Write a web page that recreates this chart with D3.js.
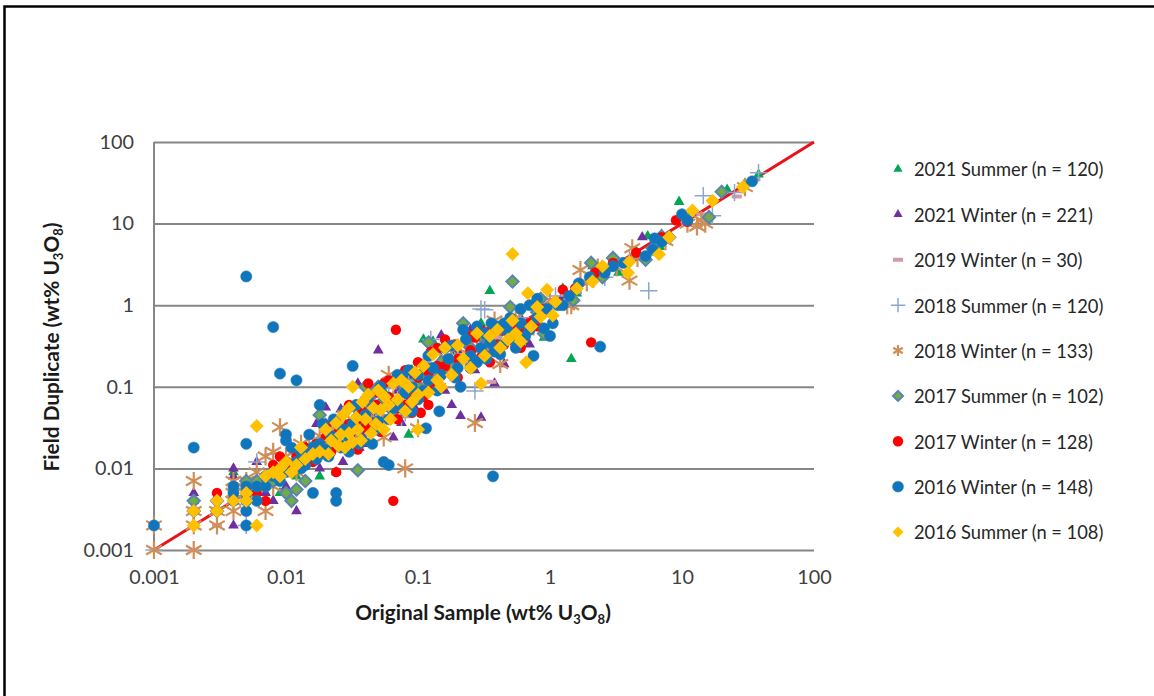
<!DOCTYPE html>
<html>
<head>
<meta charset="utf-8">
<script src="https://cdn.jsdelivr.net/npm/d3@7"></script>
<style>
  html, body { margin: 0; padding: 0; background: #fff; }
  text { font-family: Lato, "Open Sans", sans-serif; fill: #262626; }
  .tick-label { font-size: 19.8px; fill: #404040; }
  .legend-label { font-size: 18.3px; }
  .axis-title { font-size: 20.8px; font-weight: 700; fill: #1a1a1a; }
</style>
</head>
<body>
<svg id="chart" width="1154" height="696"></svg>
<script>
const tickValues = [0.001, 0.01, 0.1, 1, 10, 100];
const parityLine = [[0.001, 0.001], [100, 100]];

const summer2021 = [[.004,.009],[.006,.007],[.007,.006],[.008,.004],[.009,.005],[.012,.008],[.014,.012],[.018,.008],[.02,.014],[.024,.009],[.027,.026],[.03,.02],[.036,.023],[.04,.036],[.046,.04],[.05,.06],[.056,.085],[.062,.06],[.07,.066],[.075,.1],[.085,.13],[.085,.026],[.09,.16],[.1,.11],[.11,.38],[.12,.15],[.13,.36],[.15,.22],[.17,.16],[.19,.27],[.22,.34],[.24,.21],[.27,.46],[.3,.6],[.35,1.5],[.4,.52],[.45,.5],[.55,.62],[.62,.36],[.7,.55],[.8,.75],[.9,.4],[1,1.05],[1.25,1.6],[1.45,.22],[1.6,1.4],[2.1,3],[2.5,2.6],[3.3,2.5],[4.5,4.6],[5.5,7],[6.8,5.2],[7.5,6.2],[9.5,18.5],[12,14],[16,12.5],[22,26],[30,31],[38,40]];
const winter2021 = [[.002,.005],[.002,.004],[.004,.01],[.004,.008],[.004,.002],[.005,.003],[.005,.006],[.006,.012],[.007,.005],[.008,.004],[.009,.007],[.01,.006],[.012,.003],[.012,.013],[.014,.019],[.016,.012],[.017,.035],[.018,.01],[.02,.056],[.02,.03],[.023,.018],[.024,.022],[.026,.053],[.027,.012],[.03,.034],[.032,.026],[.034,.06],[.035,.11],[.036,.018],[.04,.027],[.042,.02],[.045,.042],[.05,.28],[.05,.05],[.055,.04],[.06,.075],[.065,.024],[.07,.09],[.075,.036],[.08,.11],[.085,.075],[.09,.14],[.095,.055],[.1,.13],[.11,.08],[.12,.17],[.13,.1],[.14,.27],[.15,.43],[.16,.09],[.18,.19],[.18,.06],[.2,.28],[.21,.044],[.24,.33],[.25,.5],[.27,.16],[.3,.042],[.32,.38],[.35,.28],[.38,.11],[.42,.48],[.45,.19],[.5,.6],[.55,.42],[.6,.7],[.7,.33],[.75,.65],[.85,.56],[1,1.05],[1.2,1.15],[1.6,1.5],[2.2,2.4],[3,3.4],[4.2,3.8],[5,6.8],[7,6.2]];
const winter2019 = [[.001,.002],[.002,.001],[.002,.002],[.003,.002],[.01,.011],[.03,.03],[.05,.05],[.09,.09],[.15,.14],[.22,.2],[.36,.115],[.4,.4],[.55,.5],[.9,.8],[1.6,1.5],[2.5,2.3],[7,6.5],[14,13],[26,21.5],[36,35]];
const summer2018 = [[.001,.001],[.005,.002],[.006,.012],[.008,.015],[.012,.015],[.014,.012],[.017,.018],[.022,.02],[.025,.032],[.028,.024],[.03,.03],[.034,.02],[.037,.06],[.04,.05],[.044,.034],[.048,.055],[.055,.05],[.06,.095],[.065,.05],[.07,.07],[.075,.042],[.08,.048],[.085,.12],[.1,.1],[.11,.2],[.125,.38],[.14,.11],[.16,.28],[.19,.21],[.23,.25],[.27,.089],[.3,.9],[.32,.88],[.35,.5],[.42,.38],[.5,.55],[.6,.7],[.75,.9],[1.1,1.3],[1.5,1.4],[2.6,2.2],[4,3.8],[5.6,1.5],[7,6.8],[10,12],[14.5,22],[17,12.5],[25,24],[38,42]];
const winter2018 = [[.001,.001],[.001,.002],[.002,.001],[.002,.002],[.002,.003],[.002,.007],[.003,.002],[.003,.003],[.004,.003],[.004,.004],[.004,.005],[.004,.007],[.005,.007],[.005,.005],[.006,.009],[.006,.006],[.007,.003],[.007,.014],[.008,.016],[.008,.006],[.009,.032],[.009,.01],[.01,.014],[.012,.009],[.013,.02],[.015,.017],[.018,.025],[.02,.016],[.022,.03],[.025,.023],[.028,.045],[.03,.033],[.034,.028],[.036,.05],[.04,.06],[.044,.036],[.05,.04],[.055,.024],[.06,.14],[.065,.07],[.07,.06],[.08,.01],[.082,.1],[.09,.085],[.1,.031],[.11,.17],[.12,.1],[.14,.14],[.16,.23],[.18,.17],[.2,.3],[.23,.22],[.27,.036],[.28,.42],[.32,.3],[.38,.65],[.42,.19],[.5,.42],[.55,.7],[.6,.5],[.75,.55],[.85,.95],[1,1.15],[1.35,1],[1.45,1],[1.7,2.7],[1.9,1.9],[2.3,2.9],[3.2,2.9],[4,2],[4.2,5],[4.6,3.8],[7.5,6.1],[11,10],[13,9.2],[14,11],[15,10],[30,28]];
const summer2017 = [[.002,.004],[.002,.003],[.003,.004],[.003,.003],[.005,.007],[.006,.006],[.006,.007],[.007,.008],[.008,.007],[.01,.005],[.011,.004],[.012,.0055],[.014,.007],[.016,.018],[.018,.045],[.02,.034],[.024,.02],[.028,.03],[.035,.0095],[.036,.05],[.04,.1],[.045,.08],[.05,.1],[.055,.068],[.065,.05],[.075,.11],[.08,.09],[.1,.1],[.12,.35],[.13,.12],[.15,.2],[.18,.17],[.22,.6],[.25,.3],[.3,.42],[.38,.3],[.42,.52],[.5,.95],[.52,1.95],[.55,.5],[.65,.55],[.8,.82],[.85,1.2],[.9,.45],[1.5,1.15],[2.05,3.3],[2.5,2.2],[3,3.8],[5.3,3.6],[6,5],[7,7],[8,6.8],[16,12],[20,24.5]];
const winter2017 = [[.003,.005],[.004,.004],[.005,.006],[.006,.005],[.007,.004],[.008,.011],[.009,.014],[.011,.011],[.012,.014],[.014,.018],[.016,.012],[.017,.02],[.018,.015],[.02,.024],[.022,.016],[.024,.009],[.025,.028],[.027,.03],[.03,.022],[.03,.035],[.033,.018],[.035,.04],[.038,.05],[.04,.032],[.042,.11],[.044,.028],[.048,.06],[.05,.085],[.052,.028],[.055,.11],[.06,.075],[.065,.004],[.068,.5],[.07,.055],[.075,.13],[.08,.06],[.085,.1],[.09,.048],[.1,.13],[.105,.048],[.11,.075],[.12,.15],[.125,.27],[.13,.105],[.14,.3],[.16,.18],[.18,.14],[.19,.33],[.2,.22],[.24,.42],[.27,.4],[.3,.23],[.34,.47],[.4,.5],[.45,.33],[.5,.38],[.55,.55],[.6,.4],[.7,.6],[.8,.55],[1.25,1.55],[1.55,1.6],[2.05,.35],[2.2,2.5],[3,3.3],[4.5,4.4],[7,6.8],[9,11],[11,10.5],[.02,.034],[.024,.04],[.03,.06],[.035,.017],[.04,.07],[.05,.032],[.06,.12],[.07,.04],[.08,.16],[.09,.08],[.1,.2],[.12,.06],[.14,.18],[.16,.38],[.2,.13],[.25,.28],[.3,.5],[.35,.2],[.4,.33],[.5,.7],[.55,.3],[.65,.5],[.9,.9],[.6,.3]];
const winter2016 = [[.001,.002],[.002,.018],[.004,.004],[.004,.005],[.004,.006],[.005,.002],[.005,.003],[.005,.004],[.005,.005],[.005,.006],[.005,.02],[.005,2.25],[.006,.004],[.006,.006],[.007,.006],[.007,.008],[.008,.008],[.008,.54],[.009,.007],[.009,.145],[.01,.009],[.01,.022],[.01,.026],[.012,.12],[.012,.012],[.013,.016],[.014,.011],[.015,.015],[.016,.005],[.016,.018],[.018,.06],[.018,.02],[.02,.017],[.022,.025],[.024,.005],[.024,.004],[.025,.02],[.027,.03],[.03,.023],[.032,.18],[.032,.035],[.035,.03],[.038,.022],[.04,.045],[.045,.055],[.045,.02],[.05,.038],[.055,.012],[.056,.075],[.06,.011],[.065,.055],[.07,.06],[.075,.13],[.08,.085],[.09,.05],[.09,.1],[.1,.14],[.11,.09],[.115,.031],[.12,.12],[.13,.17],[.145,.05],[.15,.14],[.17,.22],[.18,.32],[.2,.17],[.21,.1],[.23,.38],[.25,.24],[.28,.2],[.3,.3],[.32,.45],[.37,.008],[.38,.27],[.4,.55],[.43,.32],[.48,.48],[.55,.38],[.6,.6],[.65,.42],[.75,.24],[.8,1.2],[.9,.52],[1,.42],[1.05,.6],[1.15,1],[1.25,1],[1.4,1.3],[1.65,1.85],[2,2.2],[2.4,.31],[2.6,2.5],[3,3],[3.6,3.3],[5.3,4],[6,4.8],[6.2,6.6],[7,6],[10,13],[11,11],[34,33],[.011,.018],[.013,.01],[.015,.026],[.017,.013],[.019,.035],[.021,.014],[.023,.04],[.026,.018],[.028,.05],[.03,.016],[.034,.06],[.036,.02],[.042,.075],[.048,.03],[.052,.1],[.06,.04],[.07,.14],[.08,.05],[.085,.16],[.1,.07],[.12,.24],[.14,.09],[.16,.3],[.19,.13],[.22,.5],[.25,.17],[.28,.55],[.33,.22],[.36,.6],[.42,.25],[.5,.7],[.55,.3],[.6,.9],[.7,.5],[.8,.7],[.95,.9],[.7,1],[.45,.6],[.35,.35]];
const summer2016 = [[.002,.002],[.002,.003],[.003,.003],[.003,.004],[.004,.004],[.005,.004],[.005,.005],[.006,.002],[.006,.033],[.007,.008],[.008,.009],[.009,.01],[.009,.008],[.01,.012],[.011,.009],[.012,.011],[.013,.018],[.014,.013],[.016,.015],[.018,.016],[.02,.03],[.021,.015],[.022,.022],[.024,.036],[.025,.019],[.026,.026],[.027,.045],[.028,.018],[.03,.027],[.03,.055],[.032,.021],[.032,.1],[.034,.042],[.035,.03],[.037,.022],[.038,.065],[.04,.04],[.042,.08],[.044,.027],[.046,.055],[.048,.035],[.05,.09],[.052,.052],[.055,.03],[.056,.075],[.06,.06],[.062,.04],[.065,.11],[.07,.07],[.075,.12],[.08,.05],[.085,.1],[.09,.065],[.095,.15],[.1,.03],[.1,.08],[.11,.18],[.12,.085],[.13,.25],[.14,.12],[.15,.1],[.16,.3],[.18,.14],[.2,.32],[.22,.22],[.25,.17],[.28,.45],[.3,.11],[.32,.24],[.35,.42],[.4,.5],[.42,.3],[.48,.38],[.52,.65],[.52,4.25],[.55,.45],[.6,.36],[.66,.2],[.68,1.4],[.72,.55],[.8,.95],[.85,.72],[.95,1.55],[1.05,.75],[1.1,1.1],[1.6,1.6],[2.1,1.95],[2.5,3],[3.9,2.5],[4,3.4],[6.7,4.2],[8,6.8],[12,14.5],[17,19],[29,28]];

const legendLabels = [
  "2021 Summer (n = 120)", "2021 Winter (n = 221)", "2019 Winter (n = 30)",
  "2018 Summer (n = 120)", "2018 Winter (n = 133)", "2017 Summer (n = 102)",
  "2017 Winter (n = 128)", "2016 Winter (n = 148)", "2016 Summer (n = 108)"
];

const seriesPoints = [summer2021, winter2021, winter2019, summer2018, winter2018,
  summer2017, winter2017, winter2016, summer2016];

const triangle = d3.symbol().type(d3.symbolTriangle);
const circle = d3.symbol().type(d3.symbolCircle);
const diamond = d3.symbol().type(d3.symbolDiamond2);
const plus = d3.symbol().type(d3.symbolPlus);
const star = d3.symbol().type(d3.symbolAsterisk);

// marker look per series, same order as legendLabels
const markers = [
  { path: triangle.size(50)(), legend: triangle.size(36)(), fill: "#00a651" },
  { path: triangle.size(50)(), legend: triangle.size(36)(), fill: "#6f2f9f" },
  { path: "M-5,-2H5V2H-5Z", legend: "M-5,-2H5V2H-5Z", fill: "#d49aa5" },
  { path: plus.size(100)(), legend: plus.size(70)(), fill: "none", stroke: "#8ea5cf", width: 1.5 },
  { path: star.size(230)(), legend: star.size(85)(), fill: "none", stroke: "#cf8f58", width: 2.2 },
  { path: diamond.size(95)(), legend: diamond.size(64)(), fill: "#70ad47", stroke: "#5b84ad", width: 2 },
  { path: circle.size(85)(), legend: circle.size(85)(), fill: "#ff0000" },
  { path: circle.size(100)(), legend: circle.size(95)(), fill: "#0f75bc", stroke: "#2f7fb5", width: 0.5 },
  { path: diamond.size(125)(), legend: diamond.size(77)(), fill: "#ffc000" }
];

const svg = d3.select("#chart");

const x = d3.scaleLog().domain([0.001, 100]).range([154, 814]);
const y = d3.scaleLog().domain([0.001, 100]).range([550, 142]);

// picture frame: only top and left edges are visible
svg.append("path")
  .attr("d", "M4.5,696V6.5H1154")
  .attr("fill", "none")
  .attr("stroke", "#000")
  .attr("stroke-width", 2.5);

// gridlines + y tick labels
const yAxis = svg.append("g")
  .attr("transform", "translate(154,0)")
  .call(d3.axisLeft(y).tickValues(tickValues).tickSize(-660).tickFormat(d3.format("~g")).tickPadding(20));
yAxis.select(".domain").remove();
yAxis.selectAll("line").attr("stroke", "#868686").attr("stroke-width", 2);
yAxis.selectAll("text").attr("class", "tick-label");

const xAxis = svg.append("g")
  .attr("transform", "translate(0,550)")
  .call(d3.axisBottom(x).tickValues(tickValues).tickSize(0).tickFormat(d3.format("~g")).tickPadding(20));
xAxis.select(".domain").remove();
xAxis.selectAll("text").attr("class", "tick-label");

svg.append("line")
  .attr("x1", x(0.001)).attr("x2", x(0.001))
  .attr("y1", y(100)).attr("y2", y(0.001))
  .attr("stroke", "#868686")
  .attr("stroke-width", 2);

// 1:1 line
svg.append("path")
  .attr("d", d3.line().x(d => x(d[0])).y(d => y(d[1]))(parityLine))
  .attr("stroke", "#e8121a")
  .attr("stroke-width", 3)
  .attr("fill", "none");

seriesPoints.forEach((points, i) => {
  const m = markers[i];
  svg.append("g")
    .selectAll("path")
    .data(points)
    .enter()
    .append("path")
    .attr("transform", d => `translate(${x(d[0])},${y(d[1])})`)
    .attr("d", m.path)
    .attr("fill", m.fill)
    .attr("stroke", m.stroke || "none")
    .attr("stroke-width", m.width || 0);
});

// legend
const legendY = d3.scalePoint().domain(legendLabels).range([169, 532]);
const legend = svg.selectAll(".legend-item")
  .data(legendLabels)
  .enter()
  .append("g")
  .attr("class", "legend-item")
  .attr("transform", d => `translate(898,${legendY(d)})`);

legend.append("path")
  .attr("d", (d, i) => markers[i].legend)
  .attr("fill", (d, i) => markers[i].fill)
  .attr("stroke", (d, i) => markers[i].stroke || "none")
  .attr("stroke-width", (d, i) => markers[i].width || 0);

legend.append("text")
  .attr("class", "legend-label")
  .attr("x", 16)
  .attr("y", 1)
  .attr("dy", "0.35em")
  .text(d => d);

function axisTitle(sel, label) {
  sel.attr("class", "axis-title").attr("text-anchor", "middle");
  sel.append("tspan").text(label + " (wt% U");
  sel.append("tspan").attr("dy", 4).attr("font-size", "13px").text("3");
  sel.append("tspan").attr("dy", -4).text("O");
  sel.append("tspan").attr("dy", 4).attr("font-size", "13px").text("8");
  sel.append("tspan").attr("dy", -4).text(")");
}

svg.append("text")
  .attr("x", 483)
  .attr("y", 620)
  .call(axisTitle, "Original Sample");

svg.append("text")
  .attr("transform", "translate(59,347) rotate(-90)")
  .call(axisTitle, "Field Duplicate");
</script>
</body>
</html>
